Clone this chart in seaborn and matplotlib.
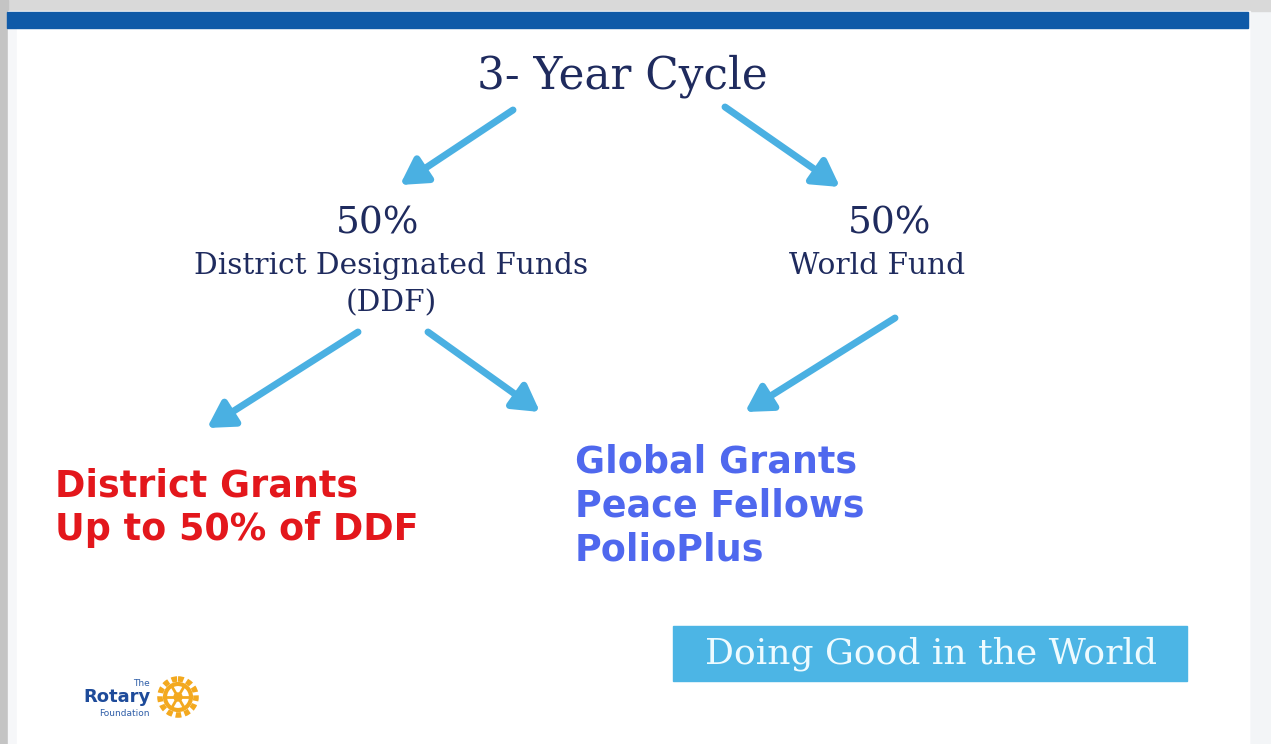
import matplotlib.pyplot as plt
import matplotlib.patches as mpatches
import numpy as np
import seaborn as sns

# text content of the diagram
title_text = "3- Year Cycle"
split_shares = ["50%", "50%"]
split_names = [["District Designated Funds", "(DDF)"], ["World Fund"]]
district_lines = ["District Grants", "Up to 50% of DDF"]
world_lines = ["Global Grants", "Peace Fellows", "PolioPlus"]
banner_text = "Doing Good in the World"

# arrows: (start x, start y) -> (end x, end y), in pixel space of the slide
arrow_tails = [(513, 110), (725, 107), (358, 332), (428, 332), (895, 318)]
arrow_heads = [(400, 185), (840, 187), (207, 428), (540, 412), (745, 412)]

NAVY = "#1f2b5e"
ARROW = "#4ab0e2"
RED = "#e3171c"
BLUE = "#4f68ee"
BANNER = "#4cb5e5"
GOLD = "#f3a91f"

sns.set_theme(style="white")
plt.rcParams["font.family"] = ["DejaVu Sans"]

fig = plt.figure(figsize=(12.71, 7.44), dpi=100)
ax = fig.add_axes([0, 0, 1, 1])
ax.set_xlim(0, 1271)
ax.set_ylim(744, 0)
ax.axis("off")

# slide frame / shadow
ax.add_patch(mpatches.Rectangle((0, 0), 1271, 744, color="#f3f5f7", zorder=0))
ax.add_patch(mpatches.Rectangle((0, 0), 1271, 11, color="#d9d9d9", zorder=0))
ax.add_patch(mpatches.Rectangle((0, 0), 8, 744, color="#c4c4c4", zorder=0))
ax.add_patch(mpatches.Rectangle((8, 11), 1242, 733, color="#f6f7f9", zorder=0))
ax.add_patch(mpatches.Rectangle((17, 27), 1232, 717, color="white", zorder=0))
ax.add_patch(mpatches.Rectangle((7, 12), 1241, 16, color="#0f5aa8", zorder=1))

serif = ["DejaVu Serif"]

ax.text(622, 76, title_text, ha="center", va="center", fontsize=31.5,
        color=NAVY, family=serif)

share_x = [378, 890]
name_x = [391, 877]
for sx, nx, share, names in zip(share_x, name_x, split_shares, split_names):
    ax.text(sx, 224, share, ha="center", va="center", fontsize=27,
            color=NAVY, family=serif)
    for j, name in enumerate(names):
        ax.text(nx, 266 + j * 37, name, ha="center", va="center",
                fontsize=21.3, color=NAVY, family=serif)

for tail, head in zip(arrow_tails, arrow_heads):
    ax.annotate("", xy=head, xytext=tail,
                arrowprops=dict(arrowstyle="-|>,head_length=1.3,head_width=0.75",
                                color=ARROW, lw=5, shrinkA=0, shrinkB=0,
                                capstyle="round"))

for i, line in enumerate(district_lines):
    ax.text(55, 486 + i * 44, line, ha="left", va="center", fontsize=26.3,
            fontweight="bold", color=RED)

for i, line in enumerate(world_lines):
    ax.text(575, 462 + i * 44, line, ha="left", va="center", fontsize=26.3,
            fontweight="bold", color=BLUE)

# banner
ax.add_patch(mpatches.Rectangle((673, 626), 514, 55, color=BANNER, zorder=2))
ax.text(931, 654, banner_text, ha="center", va="center", fontsize=26,
        color="#eefbff", family=serif, zorder=3)

# Rotary Foundation logo
ax.text(150, 683, "The", ha="right", va="center", fontsize=6.5, color="#2f5ea8")
ax.text(151, 697, "Rotary", ha="right", va="center", fontsize=13,
        fontweight="bold", color="#1e4b9a")
ax.text(150, 713, "Foundation", ha="right", va="center", fontsize=6.5, color="#2f5ea8")
ax.add_patch(mpatches.Circle((178, 697), 18, fill=False, ec=GOLD, lw=4,
                             ls=(0, (1, 0.6)), zorder=3))
ax.add_patch(mpatches.Circle((178, 697), 13, fill=False, ec=GOLD, lw=3, zorder=3))
ax.add_patch(mpatches.Circle((178, 697), 4, color=GOLD, zorder=3))
for k in range(3):
    a = np.pi * k / 3
    ax.plot([178 - 13 * np.cos(a), 178 + 13 * np.cos(a)],
            [697 - 13 * np.sin(a), 697 + 13 * np.sin(a)],
            color=GOLD, lw=2, zorder=3)

fig.savefig("out.png", dpi=100)
